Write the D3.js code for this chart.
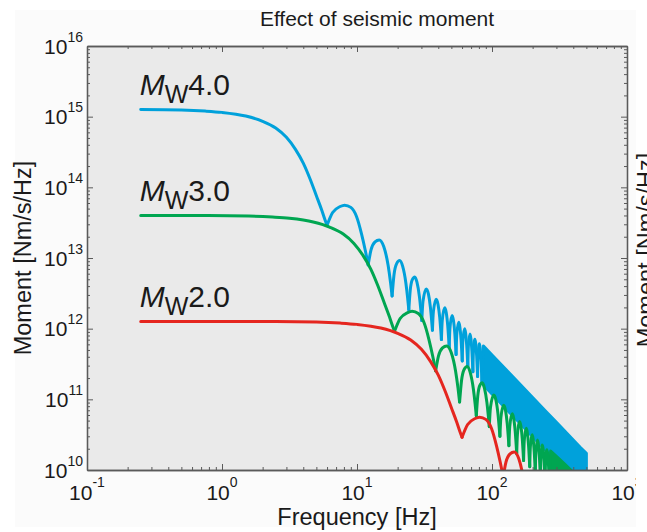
<!DOCTYPE html>
<html>
<head>
<meta charset="utf-8">
<script src="https://cdn.jsdelivr.net/npm/d3@7"></script>
<style>
  html, body { margin: 0; padding: 0; background: #ffffff; }
  svg { display: block; font-family: "Liberation Sans", Arial, Helvetica, sans-serif; }
</style>
</head>
<body>
<svg id="chart" width="647" height="532"></svg>
<script>
// Moment-rate spectra [frequency Hz, moment Nm/s/Hz] for three magnitudes.
const mw4Line = [
  [0.25,1.26e15],[0.5,1.24e15],[0.75,1.20e15],[1,1.15e15],[1.5,1.02e15],[2,8.6e14],[2.5,6.9e14],
  [3,5.1e14],[3.5,3.45e14],[4,2.2e14],[4.5,1.3e14],[5,7.6e13],[5.5,4.66e13],[5.8,3.45e13],[6.0,2.9e13],
  [6.6,4.4e13],[7.5,5.35e13],[8.1,5.6e13],[9.0,5.2e13],[9.9,3.9e13],[10.8,2.2e13],[11.5,1.3e13],[12.1,8.0e12],
  [12.7,1.3e13],[13.6,1.69e13],[14.6,1.8e13],[15.8,1.44e13],[17.0,7.9e12],[17.7,4.57e12],[18.2,2.9e12],
  [18.8,5.8e12],[19.7,8.4e12],[20.7,9.2e12],[21.8,7.6e12],[23.0,4.47e12],[23.7,2.76e12],[24.2,1.85e12],
  [24.8,3.52e12],[25.7,4.95e12],[26.8,5.4e12],[27.8,4.55e12],[29.0,2.84e12],[29.7,1.85e12],[30.2,1.3e12],
  [30.8,2.42e12],[32.6,3.65e12],[33.8,3.1e12],[35.0,1.99e12],[36.2,9.5e11],
  [36.8,1.74e12],[38.6,2.6e12],[39.8,2.22e12],[41.0,1.44e12],[42.2,7.0e11],
  [42.8,1.3e12],[44.6,1.97e12],[45.8,1.69e12],[47.0,1.1e12],[48.2,5.4e11],
  [48.8,1.01e12],[50.6,1.54e12],[51.8,1.32e12],[53.0,8.7e11],[54.2,4.3e11],
  [54.8,8.1e11],[56.6,1.23e12],[57.8,1.06e12],[59.0,7.0e11],[60.2,3.5e11],
  [60.8,6.6e11],[62.6,1.0e12],[63.8,8.6e11],[65.0,5.7e11],[66.2,2.9e11],
  [66.8,5.5e11],[68.6,8.4e11],[69.8,7.2e11],[71.0,4.8e11],[72.2,2.45e11],
  [72.8,4.6e11],[74.6,7.1e11],[75.8,6.1e11],[77.0,4.1e11],[78.2,2.1e11],
  [78.8,4.0e11],[80.6,6.1e11],[81.8,5.3e11],[83.0,3.5e11],[84.2,1.8e11]
];

const mw3Line = [
  [0.25,3.98e13],[0.79,3.98e13],[1.58,3.92e13],[2.37,3.79e13],[3.16,3.64e13],[4.74,3.23e13],[6.32,2.72e13],
  [7.91,2.18e13],[9.49,1.61e13],[11.07,1.09e13],[12.65,6.96e12],[14.23,4.11e12],[15.81,2.40e12],
  [17.39,1.47e12],[18.34,1.09e12],[18.97,9.17e11],
  [20.87,1.39e12],[23.72,1.69e12],[25.61,1.77e12],[28.46,1.64e12],[31.30,1.23e12],[34.15,6.96e11],[36.36,4.11e11],[38.26,2.53e11],
  [40.16,4.11e11],[43.0,5.34e11],[46.17,5.69e11],[49.96,4.55e11],[53.75,2.50e11],[55.97,1.45e11],[57.55,9.17e10],
  [59.45,1.83e11],[62.29,2.66e11],[65.45,2.91e11],[68.93,2.40e11],[72.73,1.41e11],[74.94,8.73e10],[76.52,5.85e10],
  [78.42,1.11e11],[81.26,1.57e11],[84.74,1.71e11],[87.90,1.44e11],[91.70,8.98e10],[93.91,5.85e10],[95.49,4.11e10],
  [97.39,7.65e10],[103.08,1.15e11],[106.88,9.80e10],[110.67,6.29e10],[114.46,3.00e10],
  [116.36,5.50e10],[122.05,8.22e10],[125.85,7.02e10],[129.64,4.55e10],[133.44,2.21e10],
  [135.33,4.11e10],[141.03,6.23e10],[144.82,5.34e10],[148.61,3.48e10],[152.41,1.71e10],
  [154.31,3.19e10],[160.0,4.87e10],[163.79,4.17e10],[167.59,2.75e10],[171.38,1.36e10],
  [173.28,2.56e10],[178.97,3.89e10],[182.76,3.35e10],[186.56,2.21e10],[190.35,1.11e10],
  [192.25,2.09e10],[197.94,3.16e10],[201.74,2.72e10],[205.53,1.80e10],[209.32,9.17e9],
  [211.2,1.74e10],[216.9,2.66e10],[220.7,2.28e10],[224.5,1.52e10],[228.3,7.75e9],
  [230.2,1.45e10],[235.9,2.25e10],[239.7,1.93e10],[243.5,1.30e10],[247.3,6.64e9],
  [249.2,1.26e10],[254.9,1.93e10],[258.7,1.68e10],[262.5,1.11e10],[266.2,5.69e9]
];

const mw2Line = [
  [0.25,1.26e12],[2.5,1.26e12],[5,1.24e12],[7.5,1.20e12],[10,1.15e12],[15,1.02e12],[20,8.6e11],
  [25,6.9e11],[30,5.1e11],[35,3.45e11],[40,2.2e11],[45,1.3e11],[50,7.6e10],[55,4.66e10],[58,3.45e10],[60,2.9e10],
  [66,4.4e10],[75,5.35e10],[81,5.6e10],[90,5.2e10],[99,3.9e10],[108,2.2e10],[115,1.3e10],[121,8.0e9],
  [127,1.3e10],[136,1.69e10],[146,1.8e10],[158,1.44e10],[170,7.9e9],[177,4.57e9],[182,2.9e9],
  [188,5.8e9],[197,8.4e9],[207,9.2e9],[218,7.6e9],[230,4.47e9],[237,2.76e9],[242,1.85e9]
];

// Densely oscillating high-frequency tails: [frequency, upper envelope, lower envelope].
const mw4Band = [
  [84.2,1.8e11,1.8e11],[86.5,5.7e11,1.6e11],[100,4.25e11,1.19e11],[130,2.51e11,7.0e10],
  [160,1.66e11,4.65e10],[200,1.06e11,2.97e10],[250,6.8e10,1.9e10],[300,4.72e10,1.32e10],
  [350,3.47e10,9.7e9],[400,2.66e10,7.4e9],[450,2.1e10,5.9e9],[500,1.72e10,4.8e9]
];
const mw3Band = [
  [266.2,5.69e9,5.69e9],[272,1.85e10,5.8e9],[300,1.56e10,4.7e9],[350,1.18e10,3.5e9],
  [400,9.25e9,2.7e9],[450,7.4e9,2.1e9],[500,6.1e9,1.7e9]
];

const magnitudes = ["4.0", "3.0", "2.0"];
const xTickExponents = ["-1", "0", "1", "2", "3"];
const yTickExponents = ["10", "11", "12", "13", "14", "15", "16"];

const colors = { mw4: "#00a1db", mw3: "#00a651", mw2: "#e5261f" };

const svg = d3.select("#chart");
const plot = { left: 87, right: 627, top: 46, bottom: 470 };

const x = d3.scaleLog().domain([0.1, 1000]).range([plot.left, plot.right]);
const y = d3.scaleLog().domain([1e10, 1e16]).range([plot.bottom, plot.top]);

// figure background
svg.append("rect").attr("x", 0).attr("y", 0).attr("width", 647).attr("height", 532).attr("fill", "#ffffff");
svg.append("rect").attr("x", 15).attr("y", 10).attr("width", 621).attr("height", 517).attr("fill", "#fbfbfb");

// axes background
svg.append("rect")
  .attr("x", plot.left).attr("y", plot.top)
  .attr("width", plot.right - plot.left).attr("height", plot.bottom - plot.top)
  .attr("fill", "#eaeaea");

svg.append("clipPath").attr("id", "plotClip")
  .append("rect")
  .attr("x", plot.left).attr("y", plot.top)
  .attr("width", plot.right - plot.left).attr("height", plot.bottom - plot.top);

const dataLayer = svg.append("g").attr("clip-path", "url(#plotClip)");

// break a spectrum into lobes at its local minima so each notch stays a sharp cusp
function splitAtNotches(pts) {
  const segs = [];
  let cur = [pts[0]];
  for (let i = 1; i < pts.length; i++) {
    cur.push(pts[i]);
    if (i < pts.length - 1 && pts[i][1] < pts[i - 1][1] && pts[i][1] < pts[i + 1][1]) {
      segs.push(cur);
      cur = [pts[i]];
    }
  }
  segs.push(cur);
  return segs;
}

const line = d3.line()
  .x(d => x(d[0]))
  .y(d => y(d[1]))
  .curve(d3.curveMonotoneX);

const band = d3.area()
  .x(d => x(d[0]))
  .y0(d => y(d[2]))
  .y1(d => y(d[1]));

function drawSeries(points, tail, color) {
  const g = dataLayer.append("g");
  if (tail) {
    g.append("path").datum(tail)
      .attr("d", band)
      .attr("fill", color)
      .attr("stroke", color)
      .attr("stroke-width", 3)
      .attr("stroke-linejoin", "round");
  }
  g.selectAll("path.lobe").data(splitAtNotches(points)).join("path")
    .attr("class", "lobe")
    .attr("d", line)
    .attr("fill", "none")
    .attr("stroke", color)
    .attr("stroke-width", 3)
    .attr("stroke-linecap", "round")
    .attr("stroke-linejoin", "round");
}

drawSeries(mw4Line, mw4Band, colors.mw4);
drawSeries(mw3Line, mw3Band, colors.mw3);
drawSeries(mw2Line, null, colors.mw2);

// axes with inward ticks on all four sides
const xAll = x.ticks();
const xMajor = xAll.filter(v => Math.abs(Math.log10(v) - Math.round(Math.log10(v))) < 1e-9);
const xMinor = xAll.filter(v => !xMajor.includes(v));
const yAll = y.ticks();
const yMajor = yAll.filter(v => Math.abs(Math.log10(v) - Math.round(Math.log10(v))) < 1e-9);
const yMinor = yAll.filter(v => !yMajor.includes(v));

const axisColor = "#5a5a5a";
function styleAxis(g) {
  g.selectAll("path.domain").attr("stroke", axisColor).attr("stroke-width", 1.3);
  g.selectAll(".tick line").attr("stroke", axisColor).attr("stroke-width", 1);
  g.selectAll("text").remove();
}
const axesLayer = svg.append("g");
[
  [d3.axisBottom(x), `translate(0,${plot.bottom})`, xMajor, xMinor],
  [d3.axisTop(x), `translate(0,${plot.top})`, xMajor, xMinor],
  [d3.axisLeft(y), `translate(${plot.left},0)`, yMajor, yMinor],
  [d3.axisRight(y), `translate(${plot.right},0)`, yMajor, yMinor]
].forEach(([axis, tr, major, minor]) => {
  axesLayer.append("g").attr("transform", tr)
    .call(axis.tickValues(minor).tickSize(-3).tickSizeOuter(0).tickFormat(""))
    .call(styleAxis);
  axesLayer.append("g").attr("transform", tr)
    .call(axis.tickValues(major).tickSize(-6).tickSizeOuter(0).tickFormat(""))
    .call(styleAxis);
});

// tick labels as powers of ten
const labelColor = "#1a1a1a";
yTickExponents.forEach(e => {
  const t = svg.append("text")
    .attr("x", plot.left - 4)
    .attr("y", y(Math.pow(10, +e)) + 7.5)
    .attr("text-anchor", "end")
    .attr("fill", labelColor)
    .attr("font-size", 21);
  t.append("tspan").text("10");
  t.append("tspan").attr("dy", -12).attr("font-size", 14).text(e);
});
xTickExponents.forEach(e => {
  const t = svg.append("text")
    .attr("x", x(Math.pow(10, +e)))
    .attr("y", plot.bottom + 30)
    .attr("text-anchor", "middle")
    .attr("fill", labelColor)
    .attr("font-size", 21);
  t.append("tspan").text("10");
  t.append("tspan").attr("dy", -13).attr("font-size", 14).text(e);
});

// magnitude labels above each flat plateau
const plateau = [mw4Line[0][1], mw3Line[0][1], mw2Line[0][1]];
magnitudes.forEach((m, i) => {
  const t = svg.append("text")
    .attr("x", x(mw4Line[0][0]) - 1)
    .attr("y", y(plateau[i]) - 15)
    .attr("fill", labelColor)
    .attr("font-size", 30);
  t.append("tspan").attr("font-style", "italic").text("M");
  t.append("tspan").attr("dy", 8).attr("font-size", 25).text("W");
  t.append("tspan").attr("dy", -8).text(m);
});

// titles
svg.append("text")
  .attr("x", 377).attr("y", 26)
  .attr("text-anchor", "middle").attr("fill", labelColor).attr("font-size", 21)
  .text("Effect of seismic moment");
svg.append("text")
  .attr("x", (plot.left + plot.right) / 2).attr("y", 525)
  .attr("text-anchor", "middle").attr("fill", labelColor).attr("font-size", 23.5)
  .text("Frequency [Hz]");
svg.append("text")
  .attr("transform", `translate(31,${(plot.top + plot.bottom) / 2}) rotate(-90)`)
  .attr("text-anchor", "middle").attr("fill", labelColor).attr("font-size", 23.5)
  .text("Moment [Nm/s/Hz]");

// edge of the neighbouring panel
svg.append("rect").attr("x", 636).attr("y", 0).attr("width", 11).attr("height", 532).attr("fill", "#ffffff");
svg.append("text")
  .attr("transform", `translate(654,250) rotate(-90)`)
  .attr("text-anchor", "middle").attr("fill", labelColor).attr("font-size", 23.5)
  .text("Moment [Nm/s/Hz]");
</script>
</body>
</html>
